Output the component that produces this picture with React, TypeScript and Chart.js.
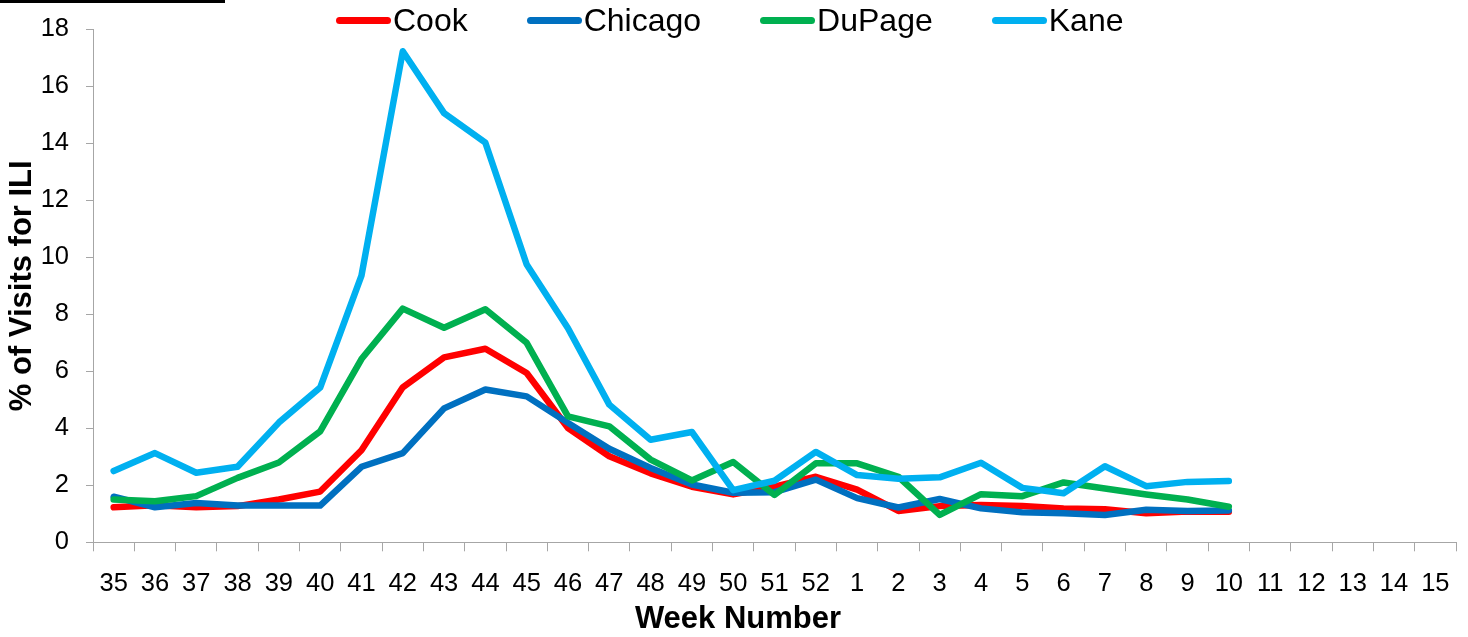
import React, { useEffect, useRef } from "react";
import { Chart, registerables } from "chart.js";

Chart.register(...registerables);

const weeks: string[] = [
  "35", "36", "37", "38", "39", "40", "41", "42", "43", "44", "45", "46", "47", "48", "49", "50", "51", "52",
  "1", "2", "3", "4", "5", "6", "7", "8", "9", "10", "11", "12", "13", "14", "15",
];

const cook: (number | null)[] = [
  1.23, 1.3, 1.23, 1.27, 1.5, 1.78, 3.23, 5.44, 6.49, 6.79, 5.94, 4.01, 3.02, 2.42, 1.95, 1.68, 1.95, 2.3,
  1.85, 1.1, 1.27, 1.31, 1.27, 1.19, 1.16, 1.02, 1.08, 1.07,
];
const chicago: (number | null)[] = [
  1.6, 1.23, 1.38, 1.29, 1.29, 1.29, 2.65, 3.13, 4.7, 5.36, 5.12, 4.19, 3.28, 2.61, 2.03, 1.74, 1.76, 2.2,
  1.55, 1.22, 1.52, 1.19, 1.05, 1.02, 0.96, 1.14, 1.1, 1.12,
];
const dupage: (number | null)[] = [
  1.5, 1.44, 1.62, 2.26, 2.8, 3.89, 6.43, 8.2, 7.53, 8.18, 7.0, 4.42, 4.07, 2.9, 2.17, 2.82, 1.66, 2.77,
  2.77, 2.3, 0.96, 1.69, 1.62, 2.1, 1.89, 1.68, 1.5, 1.25,
];
const kane: (number | null)[] = [
  2.5, 3.13, 2.44, 2.65, 4.2, 5.43, 9.36, 17.23, 15.06, 14.02, 9.75, 7.51, 4.83, 3.6, 3.87, 1.83, 2.16, 3.17,
  2.36, 2.23, 2.28, 2.79, 1.91, 1.72, 2.67, 1.97, 2.12, 2.15,
];

const seriesNames = ["Cook", "Chicago", "DuPage", "Kane"];
const seriesColors = ["#FF0000", "#0070C0", "#00B050", "#00B0F0"];
const seriesData = [cook, chicago, dupage, kane];

const yTicks = [0, 2, 4, 6, 8, 10, 12, 14, 16, 18];

const FONT = "'Liberation Sans', Arial, sans-serif";

export default function App() {
  const canvasRef = useRef<HTMLCanvasElement | null>(null);

  useEffect(() => {
    document.body.style.margin = "0";
    const canvas = canvasRef.current;
    if (!canvas) return;
    const chart = new Chart(canvas, {
      type: "line",
      data: {
        labels: weeks,
        datasets: seriesNames.map((name, i) => ({
          label: name,
          data: seriesData[i],
          borderColor: seriesColors[i],
          backgroundColor: seriesColors[i],
          borderWidth: 6.5,
          pointRadius: 0,
          pointHoverRadius: 0,
          tension: 0,
          fill: false,
          borderCapStyle: "round" as const,
          borderJoinStyle: "round" as const,
          order: seriesNames.length - i,
        })),
      },
      options: {
        animation: false,
        responsive: false,
        maintainAspectRatio: false,
        layout: { padding: { top: 29.3, right: 12, bottom: 0, left: 4 } },
        plugins: {
          legend: { display: false },
          tooltip: { enabled: false },
        },
        scales: {
          x: {
            type: "category",
            offset: true,
            afterFit: (axis: any) => {
              axis.height = 94.7;
              axis.paddingLeft = 0;
              axis.paddingRight = 0;
            },
            grid: {
              display: true,
              drawOnChartArea: false,
              drawTicks: true,
              tickLength: 9,
              color: "#a6a6a6",
              offset: true,
            },
            border: { color: "#a6a6a6", width: 1 },
            ticks: {
              color: "#000",
              font: { family: FONT, size: 25.5 },
              maxRotation: 0,
              minRotation: 0,
              autoSkip: false,
              padding: 17,
            },
          },
          y: {
            min: 0,
            max: 18,
            afterFit: (axis: any) => {
              axis.width = 89;
              axis.paddingTop = 0;
              axis.paddingBottom = 0;
            },
            afterBuildTicks: (axis: any) => {
              axis.ticks = yTicks.map((v) => ({ value: v }));
            },
            grid: {
              display: true,
              drawOnChartArea: false,
              drawTicks: true,
              tickLength: 7,
              color: "#a6a6a6",
            },
            border: { color: "#a6a6a6", width: 1 },
            ticks: {
              color: "#000",
              font: { family: FONT, size: 25.5 },
              padding: 17,
            },
            title: {
              display: true,
              text: "% of Visits for ILI",
              color: "#000",
              font: { family: FONT, size: 31, weight: "bold" },
              padding: { top: 0, bottom: 0 },
            },
          },
        },
      },
    });
    return () => chart.destroy();
  }, []);

  return (
    <div style={{ position: "relative", width: 1468, height: 637, background: "#fff", fontFamily: FONT }}>
      <canvas ref={canvasRef} width={1468} height={637} style={{ display: "block" }} />
      <div style={{ position: "absolute", left: 0, top: 0, width: 225, height: 3, background: "#000" }} />
      <div
        style={{
          position: "absolute",
          top: 1,
          left: 336,
          display: "flex",
          alignItems: "center",
          whiteSpace: "nowrap",
        }}
      >
        {seriesNames.map((name, i) => (
          <div key={name} style={{ display: "flex", alignItems: "center", marginRight: i < seriesNames.length - 1 ? 59 : 0 }}>
            <span
              style={{
                display: "inline-block",
                width: 55,
                height: 7,
                borderRadius: 4,
                background: seriesColors[i],
                marginRight: 2,
              }}
            />
            <span style={{ fontSize: 32, color: "#000", lineHeight: "38px" }}>{name}</span>
          </div>
        ))}
      </div>
      <div
        style={{
          position: "absolute",
          top: 600,
          left: 638,
          width: 200,
          display: "flex",
          justifyContent: "center",
          whiteSpace: "nowrap",
          fontSize: 31,
          fontWeight: "bold",
          color: "#000",
          lineHeight: "36px",
        }}
      >
        Week Number
      </div>
    </div>
  );
}
